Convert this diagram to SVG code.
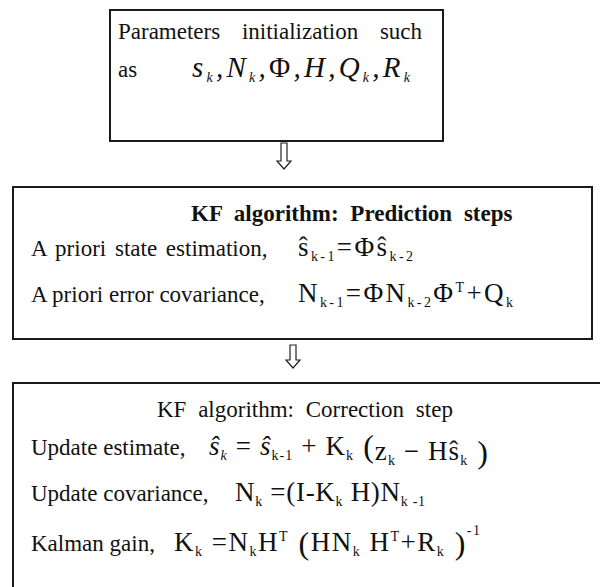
<svg xmlns="http://www.w3.org/2000/svg" width="600" height="587" viewBox="0 0 600 587">
<style>
.box{fill:#fff;stroke:#1a1a1a;stroke-width:2}
.arr{fill:#fff;stroke:#222;stroke-width:1.2;stroke-linejoin:miter}
text{font-family:"Liberation Serif","Times New Roman",serif;fill:#111}
.t{font-size:23px}
.b{font-size:23px;font-weight:bold}
.m{font-size:27px}
.mi{font-size:29px;font-style:italic}
.s{font-size:14px}
.p{font-size:32px}
.i{font-style:italic}
</style>
<rect width="600" height="587" fill="#fff"/>
<g id="init">
<rect class="box" x="110" y="10" width="333" height="131"/>
<text class="t" x="118" y="39" word-spacing="16">Parameters initialization such</text>
<text class="t" x="118" y="77">as</text>
<text class="mi" x="192" y="77" textLength="218" lengthAdjust="spacing">s<tspan class="s" dy="5">k</tspan><tspan dy="-5">,N</tspan><tspan class="s" dy="5">k</tspan><tspan dy="-5">,</tspan><tspan font-style="normal">Φ</tspan>,H,Q<tspan class="s" dy="5">k</tspan><tspan dy="-5">,R</tspan><tspan class="s" dy="5">k</tspan></text>
</g>
<g id="predict">
<rect class="box" x="13" y="187" width="579" height="152"/>
<text class="b" x="191" y="221" word-spacing="6">KF algorithm: Prediction steps</text>
<text class="t" x="31" y="256" word-spacing="3">A priori state estimation,</text>
<text class="m" x="298" y="256" textLength="115" lengthAdjust="spacing">ŝ<tspan class="s" dy="5">k-1</tspan><tspan dy="-5">=Φŝ</tspan><tspan class="s" dy="5">k-2</tspan></text>
<text class="t" x="31" y="302">A priori error covariance,</text>
<text class="m" x="298" y="302" textLength="215" lengthAdjust="spacing">N<tspan class="s" dy="5">k-1</tspan><tspan dy="-5">=ΦN</tspan><tspan class="s" dy="5">k-2</tspan><tspan dy="-5">Φ</tspan><tspan class="s" dy="-10">T</tspan><tspan dy="10">+Q</tspan><tspan class="s" dy="5">k</tspan></text>
</g>
<g id="correct">
<rect class="box" x="13" y="383" width="600" height="230"/>
<text class="t" x="157" y="417" word-spacing="6">KF algorithm: Correction step</text>
<text class="t" x="31" y="455">Update estimate,</text>
<text class="m" x="209" y="455" textLength="279" lengthAdjust="spacing"><tspan class="i">ŝ</tspan><tspan class="s i" dy="5">k</tspan><tspan dy="-5"> = </tspan><tspan class="i">ŝ</tspan><tspan class="s" dy="5">k-1</tspan><tspan dy="-5"> + K</tspan><tspan class="s" dy="5">k</tspan><tspan class="p" dy="-3"> (</tspan><tspan dy="3">z</tspan><tspan class="s" dy="5">k</tspan><tspan dy="-5"> − Hŝ</tspan><tspan class="s" dy="5">k</tspan><tspan class="p" dy="-2"> )</tspan></text>
<text class="t" x="31" y="501">Update covariance,</text>
<text class="m" x="235" y="501" textLength="190" lengthAdjust="spacing">N<tspan class="s" dy="5">k</tspan><tspan dy="-5"> =(I-K</tspan><tspan class="s" dy="5">k</tspan><tspan dy="-5"> H)N</tspan><tspan class="s" dy="5">k -1</tspan></text>
<text class="t" x="31" y="551">Kalman gain,</text>
<text class="m" x="174" y="551" textLength="306" lengthAdjust="spacing">K<tspan class="s" dy="5">k</tspan><tspan dy="-5"> =N</tspan><tspan class="s" dy="5">k</tspan><tspan dy="-5">H</tspan><tspan class="s" dy="-10">T</tspan><tspan class="p" dy="13"> (</tspan><tspan dy="-3">HN</tspan><tspan class="s" dy="5">k</tspan><tspan dy="-5"> H</tspan><tspan class="s" dy="-10">T</tspan><tspan dy="10">+R</tspan><tspan class="s" dy="5">k</tspan><tspan class="p" dy="-2"> )</tspan><tspan class="s" dy="-19">-1</tspan></text>
</g>
<g id="connectors">
<polygon class="arr" points="281,143 287,143 287,161 291,161 284,169 277,161 281,161"/>
<polygon class="arr" points="290,345 296,345 296,360 300,360 293,368 286,360 290,360"/>
</g>
</svg>
